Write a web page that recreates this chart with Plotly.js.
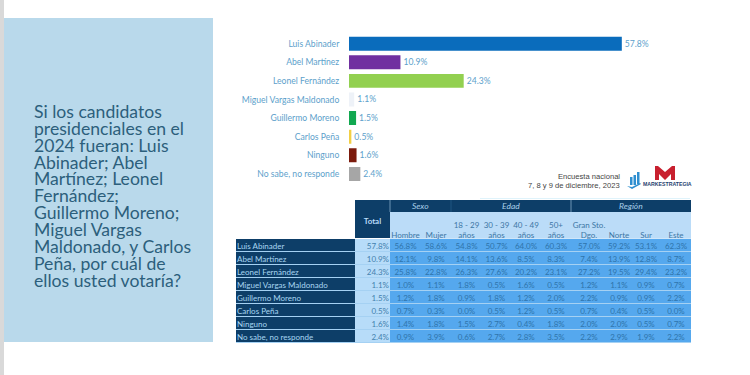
<!DOCTYPE html>
<html>
<head>
<meta charset="utf-8">
<script src="https://cdn.plot.ly/plotly-3.0.1.min.js"></script>
<style>html,body{margin:0;padding:0;background:#fff}#c{width:750px;height:375px}</style>
</head>
<body>
<div id="c"></div>
<script>
const candidates = ["Luis Abinader","Abel Martínez","Leonel Fernández","Miguel Vargas Maldonado","Guillermo Moreno","Carlos Peña","Ninguno","No sabe, no responde"];
const barColors = ["#0a6cbc","#7030a0","#92d050","#eef2f8","#12a850","#f2cf45","#7b1a0c","#a6a6a6"];
const total = [57.8,10.9,24.3,1.1,1.5,0.5,1.6,2.4];
const hombre = [56.8,12.1,25.8,1.0,1.2,0.7,1.4,0.9];
const mujer = [58.6,9.8,22.8,1.1,1.8,0.3,1.8,3.9];
const e18 = [54.8,14.1,26.3,1.8,0.9,0.0,1.5,0.6];
const e30 = [50.7,13.6,27.6,0.5,1.8,0.5,2.7,2.7];
const e40 = [64.0,8.5,20.2,1.6,1.2,1.2,0.4,2.8];
const e50 = [60.3,8.3,23.1,0.5,2.0,0.5,1.8,3.5];
const gran = [57.0,7.4,27.2,1.2,2.2,0.7,2.0,2.2];
const norte = [59.2,13.9,19.5,1.1,0.9,0.4,2.0,2.9];
const sur = [53.1,12.8,29.4,0.9,0.9,0.5,0.5,1.9];
const este = [62.3,8.7,23.2,0.7,2.2,0.0,0.7,2.2];
const columns = [total,hombre,mujer,e18,e30,e40,e50,gran,norte,sur,este];
const headerTop = ["","","","18 - 29","30 - 39","40 - 49","50+","Gran Sto.","","",""];
const headerBottom = ["","Hombre","Mujer","años","años","años","años","Dgo.","Norte","Sur","Este"];
const totalLabel = "Total";
const groupLabels = ["Sexo","Edad","Región"];
const question = ["Si los candidatos","presidenciales en el","2024 fueran: Luis","Abinader; Abel","Martínez; Leonel","Fernández;","Guillermo Moreno;","Miguel Vargas","Maldonado, y Carlos","Peña, por cuál de","ellos usted votaría?"];
const sourceLines = ["Encuesta nacional","7, 8 y 9 de diciembre, 2023"];

const W=750,H=375;
const X=p=>p/W, Y=p=>1-p/H;
const rect=(x0,y0,x1,y1,c)=>({type:'rect',xref:'paper',yref:'paper',x0:X(x0),x1:X(x1),y0:Y(y1),y1:Y(y0),fillcolor:c,line:{width:0},layer:'below'});
const poly=(pts,c)=>({type:'path',xref:'paper',yref:'paper',path:'M'+pts.map(p=>X(p[0])+','+Y(p[1])).join('L')+'Z',fillcolor:c,line:{width:0}});
const vline=(x,y0,y1,c)=>({type:'line',xref:'paper',yref:'paper',x0:X(x),x1:X(x),y0:Y(y0),y1:Y(y1),line:{color:c,width:1}});
const note=(x,y,t,size,color,anchor,fam)=>({xref:'paper',yref:'paper',x:X(x),y:Y(y),text:t,showarrow:false,xanchor:anchor,yanchor:'middle',font:{size:size,color:color,family:fam},borderpad:0,borderwidth:0});

const navy="#0d3e68", cellBlue="#55a8ee", totalBlue="#b7dcf9", headBlue="#bbdcf8", txtBlue="#2f74ab";
const sans="Lato, 'Open Sans', sans-serif", arial="'Liberation Sans', Arial, sans-serif";

const shapes=[
  rect(0,0,4,375,"#d9d9d9"),
  rect(4,18,213,342,"#b9d9eb"),
  rect(355,200,691,212,navy),
  rect(480,198,690,199,"#dff3fb"),
  rect(236,239,691,343,"#a5d1f3"),
  rect(390,212,691,239,"#cfe6fa"),
  vline(390,200,212,"#6d93b3"),
  vline(451,200,212,"#1f5480"),
  vline(571,200,212,"#6d93b3"),
  poly([[655,180],[655,166],[658,166],[665,172],[672,166],[675,166],[675,180],[671,180],[671,174],[665,180],[659,174],[659,180]],"#c8202f"),
  poly([[627,186],[632,189],[641,184],[640,183],[632,187]],"#2f8fd0"),
  rect(630,177,632.5,185,"#2f8fd0"),
  rect(633.5,175,636,185,"#2f8fd0"),
  rect(637,172,639.5,184,"#2f8fd0"),
];

const ann=[];
question.forEach((t,i)=>ann.push(note(34,111.5+i*16.85,t,17.6,"#2c5f7c",'left',sans)));
ann.push(note(620,176.5,sourceLines[0],7.6,"#444",'right',arial));
ann.push(note(620,185.5,sourceLines[1],7.6,"#444",'right',arial));
ann.push(note(643,183.5,"<b>MARKESTRATEGIA</b>",5.2,"#1f3f70",'left',arial));
ann.push(note(420.5,206,"<i>"+groupLabels[0]+"</i>",8.5,"#a9cfe8",'center',sans));
ann.push(note(511,206,"<i>"+groupLabels[1]+"</i>",8.5,"#a9cfe8",'center',sans));
ann.push(note(631,206,"<i>"+groupLabels[2]+"</i>",8.5,"#a9cfe8",'center',sans));

// table grid
const colW=[119,35,31,30,31,29,30,30,36,24,30,30];
const headH=27, rowH=13;
const xEdges=[0]; colW.forEach(w=>xEdges.push(xEdges[xEdges.length-1]+w));
const yEdges=[0,headH]; candidates.forEach(()=>yEdges.push(yEdges[yEdges.length-1]+rowH));
const mid=(a,i)=>(a[i]+a[i+1])/2;
const fillHead=colW.map((_,c)=>c===0?0:c===1?1:4);
const fillBody=colW.map((_,c)=>c===0?1:c===1?2:3);
const zGrid=[fillHead].concat(candidates.map(()=>fillBody));
const grid={type:'heatmap',x:xEdges,y:yEdges,z:zGrid,zmin:0,zmax:4,showscale:false,xgap:0,ygap:1,xaxis:'x2',yaxis:'y2',hoverinfo:'skip',
  colorscale:[[0,"#ffffff"],[0.125,"#ffffff"],[0.125,navy],[0.375,navy],[0.375,totalBlue],[0.625,totalBlue],[0.625,cellBlue],[0.875,cellBlue],[0.875,headBlue],[1,headBlue]]};

const tx=[],ty=[],tt=[],tc=[],tp=[];
const put=(x,y,t,c,p)=>{tx.push(x);ty.push(y);tt.push(t);tc.push(c);tp.push(p);};
candidates.forEach((name,r)=>{
  const yy=mid(yEdges,r+1)+1;
  put(1,yy,name,"#a8d6f2",'middle right');
  columns.forEach((col,c)=>{
    const s=col[r].toFixed(1)+"%";
    if(c===0) put(xEdges[2]-1,yy,s,"#4481ae",'middle left');
    else put(mid(xEdges,c+1),yy,s,txtBlue,'middle center');
  });
});
put(mid(xEdges,1),10,"<b>"+totalLabel+"</b>","#b9dcf8",'middle center');
headerTop.forEach((t,c)=>{ if(t) put(mid(xEdges,c+1),13.5,t,"#3d77a5",'middle center'); });
headerBottom.forEach((t,c)=>{ if(t) put(mid(xEdges,c+1),24,t,"#3d77a5",'middle center'); });
const cellText={type:'scatter',mode:'text',x:tx,y:ty,text:tt,textposition:tp,textfont:{size:8,color:tc,family:sans},xaxis:'x2',yaxis:'y2',hoverinfo:'skip',cliponaxis:false};

const bar={type:'bar',orientation:'h',y:candidates,x:total,marker:{color:barColors,line:{width:0}},
  width:0.75,text:total.map(v=>v.toFixed(1)+"%"),textposition:'outside',cliponaxis:false,
  textfont:{size:8.6,color:"#5d9fcb",family:sans},xaxis:'x',yaxis:'y',hoverinfo:'skip'};

const off={visible:false,fixedrange:true};
const layout={width:W,height:H,margin:{l:0,r:0,t:0,b:0},paper_bgcolor:"#fff",plot_bgcolor:"rgba(0,0,0,0)",showlegend:false,
  xaxis:{domain:[X(349),X(349+330)],range:[0,330/4.72],showgrid:false,zeroline:false,showticklabels:false,ticks:'',showline:false,fixedrange:true},
  yaxis:{domain:[Y(183.2),Y(34.4)],autorange:'reversed',type:'category',showgrid:false,zeroline:false,showline:false,ticks:'outside',ticklen:7,tickcolor:'rgba(0,0,0,0)',
    tickfont:{size:8.6,color:"#5d9fcb",family:sans},fixedrange:true},
  xaxis2:Object.assign({domain:[X(236),X(691)],range:[0,xEdges[xEdges.length-1]],anchor:'y2'},off),
  yaxis2:Object.assign({domain:[Y(343),Y(212)],range:[yEdges[yEdges.length-1],0],anchor:'x2'},off),
  shapes:shapes,annotations:ann};

Plotly.newPlot('c',[bar,grid,cellText],layout,{displayModeBar:false,staticPlot:true});
</script>
</body>
</html>
